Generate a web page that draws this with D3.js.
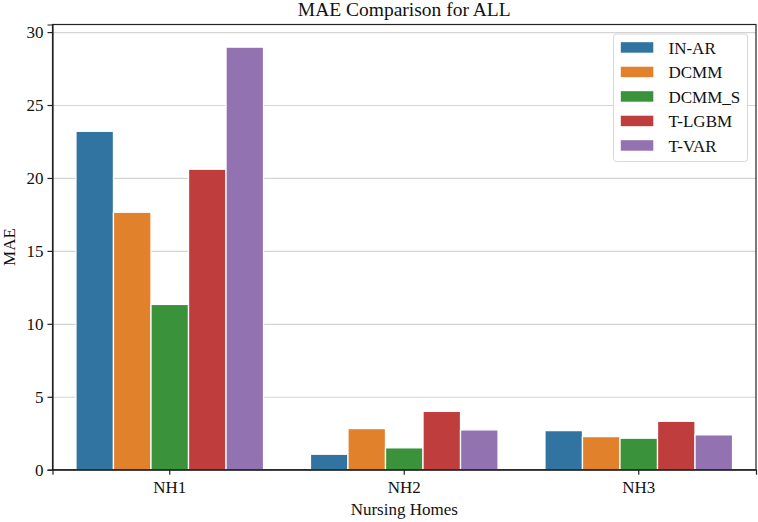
<!DOCTYPE html>
<html>
<head>
<meta charset="utf-8">
<script src="https://cdn.jsdelivr.net/npm/d3@7"></script>
<style>
  body { margin: 0; background: #fff; }
  svg { display: block; }
  svg text { font-family: "Liberation Serif", "Times New Roman", serif; }
  .grid line { stroke: #d4d4d4; stroke-width: 1.2; }
  .grid .domain { display: none; }
</style>
</head>
<body>
<svg width="758" height="522"></svg>
<script>
// DATA
var homes = ["NH1", "NH2", "NH3"];
var models = ["IN-AR", "DCMM", "DCMM_S", "T-LGBM", "T-VAR"];
var inAr   = [23.2, 1.06, 2.68];
var dcmm   = [17.65, 2.82, 2.27];
var dcmmS  = [11.33, 1.5, 2.16];
var tLgbm  = [20.6, 4.0, 3.32];
var tVar   = [28.97, 2.73, 2.39];
var yTicks = [0, 5, 10, 15, 20, 25, 30];

var seriesValues = [inAr, dcmm, dcmmS, tLgbm, tVar];
var colors = d3.scaleOrdinal()
  .domain(models)
  .range(["#3274a1", "#e1812c", "#3a923a", "#c03d3e", "#9372b2"]);

// SETUP
var svg = d3.select("svg"),
    margin = { top: 24.5, right: 2, bottom: 52.3, left: 52.5 },
    width = 758 - margin.left - margin.right,
    height = 522 - margin.top - margin.bottom;

var g = svg.append("g")
  .attr("transform", "translate(" + margin.left + "," + margin.top + ")");

var x = d3.scaleBand().domain(homes).range([0, width])
  .paddingInner(0.2).paddingOuter(0.1);
var xs = d3.scaleBand().domain(models).range([0, x.bandwidth()]);
var y = d3.scaleLinear().domain([0, 30.52]).range([height, 0]);

// grid
g.append("g")
  .attr("class", "grid")
  .call(d3.axisLeft(y).tickValues(yTicks).tickSize(-width).tickFormat(""));

// bars
var rows = [];
homes.forEach(function (h, i) {
  models.forEach(function (m, j) {
    rows.push({ home: h, model: m, value: seriesValues[j][i] });
  });
});

g.selectAll(".bar")
  .data(rows)
  .enter().append("rect")
  .attr("class", "bar")
  .attr("x", function (d) { return x(d.home) + xs(d.model); })
  .attr("y", function (d) { return y(d.value); })
  .attr("width", xs.bandwidth())
  .attr("height", function (d) { return height - y(d.value); })
  .attr("fill", function (d) { return colors(d.model); })
  .attr("stroke", "#fff")
  .attr("stroke-width", 1.3);

// frame
g.append("rect")
  .attr("width", width).attr("height", height)
  .attr("fill", "none").attr("stroke", "#222").attr("stroke-width", 1.2);

// axes
var yAxis = g.append("g")
  .call(d3.axisLeft(y).tickValues(yTicks).tickSize(5).tickPadding(4));
var xAxis = g.append("g")
  .attr("transform", "translate(0," + height + ")")
  .call(d3.axisBottom(x).tickSize(5).tickPadding(6));

[yAxis, xAxis].forEach(function (a) {
  a.attr("font-family", null).attr("font-size", null);
  a.select(".domain").attr("stroke", "#222").attr("stroke-width", 1.2);
  a.selectAll(".tick line").attr("stroke", "#222").attr("stroke-width", 1.2);
  a.selectAll(".tick text")
    .attr("fill", "#111")
    .style("font-size", "17px");
});

// titles
svg.append("text")
  .attr("x", margin.left + width / 2).attr("y", 16)
  .attr("text-anchor", "middle")
  .style("font-size", "19.5px").attr("fill", "#111")
  .text("MAE Comparison for ALL");

svg.append("text")
  .attr("x", margin.left + width / 2).attr("y", 515)
  .attr("text-anchor", "middle")
  .style("font-size", "17px").attr("fill", "#111")
  .text("Nursing Homes");

svg.append("text")
  .attr("transform", "translate(14.5," + (margin.top + height / 2) + ") rotate(-90)")
  .attr("text-anchor", "middle")
  .style("font-size", "17px").attr("fill", "#111")
  .text("MAE");

// legend
var legend = svg.append("g").attr("transform", "translate(613.5,34)");
legend.append("rect")
  .attr("width", 134).attr("height", 127.5)
  .attr("rx", 3).attr("ry", 3)
  .attr("fill", "#fff").attr("fill-opacity", 0.85)
  .attr("stroke", "#d8d8d8").attr("stroke-width", 1);

var items = legend.selectAll(".item")
  .data(models)
  .enter().append("g")
  .attr("class", "item")
  .attr("transform", function (d, i) { return "translate(0," + (13.7 + i * 24.5) + ")"; });

items.append("rect")
  .attr("x", 7.3).attr("y", -5.5)
  .attr("width", 32.5).attr("height", 10.5)
  .attr("fill", function (d) { return colors(d); });

items.append("text")
  .attr("x", 55).attr("y", 6)
  .style("font-size", "17px").attr("fill", "#111")
  .text(function (d) { return d; });
</script>
</body>
</html>
